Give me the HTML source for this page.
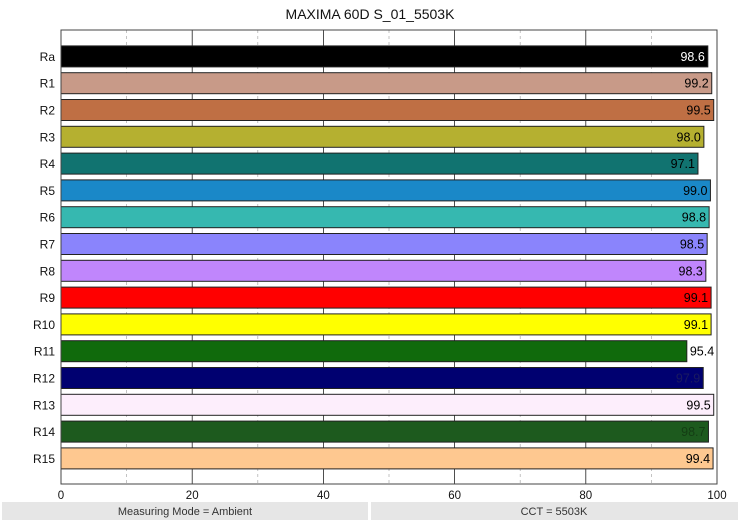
<!DOCTYPE html>
<html><head><meta charset="utf-8"><style>
body{margin:0;background:#fff;font-family:"Liberation Sans",sans-serif;}
</style></head><body>
<svg width="740" height="521" xmlns="http://www.w3.org/2000/svg" font-family="Liberation Sans, sans-serif">
<text x="370" y="19" text-anchor="middle" font-size="14" fill="#111">MAXIMA 60D S_01_5503K</text>
<g id="grid"></g>
<g id="bars"></g>
<rect x="61" y="30" width="656" height="454" fill="none" stroke="#444" stroke-width="1"/>
<g id="ticks"></g>
<rect x="2" y="502" width="366" height="18" fill="#e6e6e6"/>
<text x="185" y="515" text-anchor="middle" font-size="11" fill="#333">Measuring Mode = Ambient</text>
<rect x="371" y="502" width="367" height="18" fill="#e6e6e6"/>
<text x="554" y="515" text-anchor="middle" font-size="11" fill="#333">CCT = 5503K</text>
</svg>
<script>
const categories=["Ra","R1","R2","R3","R4","R5","R6","R7","R8","R9","R10","R11","R12","R13","R14","R15"];
const values=[98.6,99.2,99.5,98.0,97.1,99.0,98.8,98.5,98.3,99.1,99.1,95.4,97.9,99.5,98.7,99.4];
const colors=["#000000","#c89a88","#bf6f44","#b5b030","#117370","#1a88c8","#36b8b0","#8a84fc","#c086fc","#ff0000","#ffff00","#106a0c","#000070","#fdeefc","#1d5a1e","#fec890"];
const textColors=["#fff","#000","#000","#000","#000","#000","#000","#000","#000","#000","#000","#000","#1a1a60","#000","#143d14","#000"];
const xTicks=[0,20,40,60,80,100];
const NS="http://www.w3.org/2000/svg";
const x0=61,x1=717,rowTop=43,band=26.8,barH=21;
const xs=v=>x0+(x1-x0)*v/100;
const ys=i=>rowTop+band*i+band/2;
function mk(t,a,p){const e=document.createElementNS(NS,t);for(const k in a)e.setAttribute(k,a[k]);p.appendChild(e);return e;}
const grid=document.getElementById('grid'),bars=document.getElementById('bars'),ticks=document.getElementById('ticks');
for(let v=10;v<100;v+=10){
  const l=mk('line',{x1:xs(v),x2:xs(v),y1:30,y2:484,stroke:v%20?'#aaa':'#222','stroke-width':v%20?0.7:0.8,'stroke-dasharray':v%20?'3,3':'none'},grid);
  
  
}
categories.forEach((c,i)=>{
  const y=ys(i);
  const r=mk('rect',{x:x0,y:y-barH/2,width:xs(values[i])-x0,height:barH,fill:colors[i],stroke:'#222','stroke-width':1},bars);
  
  
  const outside=values[i]<96;
  const t=mk('text',{x:outside?xs(values[i])+3:xs(values[i])-3,y:y+4.5,'text-anchor':outside?'start':'end','font-size':12.5,fill:outside?'#000':textColors[i]},bars);
  t.textContent=values[i].toFixed(1);
  
  
  const lb=mk('text',{x:55,y:y+4.5,'text-anchor':'end','font-size':12,fill:'#111'},bars);
  lb.textContent=c;
  
  
});
xTicks.forEach(v=>{
  const t=mk('text',{x:xs(v),y:499,'text-anchor':'middle','font-size':11.5,fill:'#111'},ticks);
  t.textContent=v;
  
  
});
</script>
</body></html>
